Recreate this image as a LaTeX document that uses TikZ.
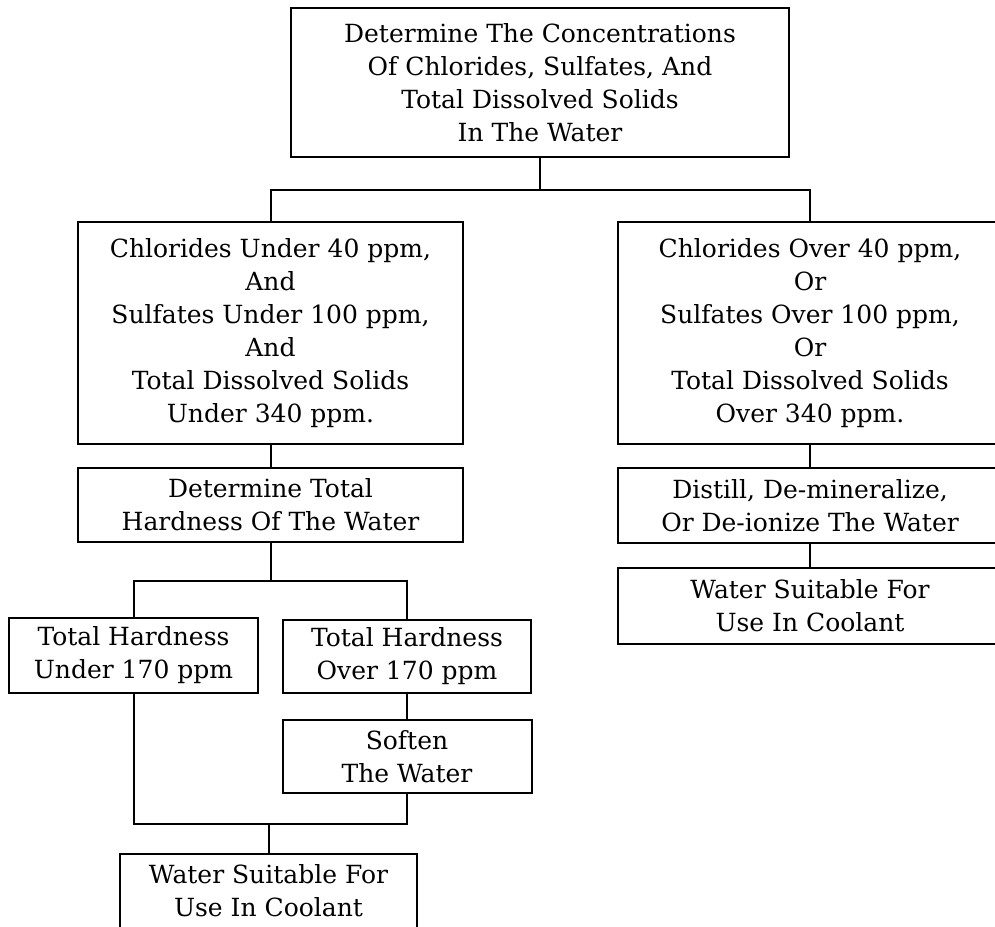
\documentclass[tikz,border=0pt]{standalone}
\usepackage{fontspec}
\setmainfont{DejaVu Serif}

\tikzset{
  caja/.style={draw, line width=2pt, align=center, inner sep=2pt,
    font=\fontsize{25}{33}\selectfont},
}

\begin{document}
\begin{tikzpicture}[x=1pt, y=-1pt, line width=2pt]

    % Marco
    \useasboundingbox (0,0) rectangle (995,926);
    \clip (0,0) rectangle (995,926);

    % Caja superior
    \node[caja, minimum width=498pt, minimum height=149pt] (analisis) at (540,82.5)
      {Determine The Concentrations\\ Of Chlorides, Sulfates, And\\ Total Dissolved Solids\\ In The Water};

    % Rama izquierda
    \node[caja, minimum width=385pt, minimum height=222pt] (bajo) at (270.5,333)
      {Chlorides Under 40 ppm,\\ And\\ Sulfates Under 100 ppm,\\ And\\ Total Dissolved Solids\\ Under 340 ppm.};
    \node[caja, minimum width=385pt, minimum height=74pt] (dureza) at (270.5,505)
      {Determine Total\\ Hardness Of The Water};
    \node[caja, minimum width=249pt, minimum height=75pt] (dmenor) at (133.5,655.5)
      {Total Hardness\\ Under 170 ppm};
    \node[caja, minimum width=248pt, minimum height=73pt] (dmayor) at (407,656.5)
      {Total Hardness\\ Over 170 ppm};
    \node[caja, minimum width=249pt, minimum height=73pt] (ablandar) at (407,756.5)
      {Soften\\ The Water};
    \node[caja, minimum width=297pt, minimum height=74pt] (apta1) at (268.5,891)
      {Water Suitable For\\ Use In Coolant};

    % Rama derecha
    \node[caja, minimum width=384pt, minimum height=222pt] (alto) at (810,333)
      {Chlorides Over 40 ppm,\\ Or\\ Sulfates Over 100 ppm,\\ Or\\ Total Dissolved Solids\\ Over 340 ppm.};
    \node[caja, minimum width=384pt, minimum height=75pt] (destilar) at (810,505.5)
      {Distill, De-mineralize,\\ Or De-ionize The Water};
    \node[caja, minimum width=384pt, minimum height=76pt] (apta2) at (810,606)
      {Water Suitable For\\ Use In Coolant};

    % Puntos de union
    \coordinate (b1) at (540,190);
    \coordinate (b2) at (270.5,581);
    \coordinate (b3) at (268.5,824);

    % Conexiones
    \draw (analisis.south) -- (b1);
    \draw (bajo.north) |- (b1) -| (alto.north);
    \draw (bajo.south) -- (dureza.north);
    \draw (dureza.south) -- (b2);
    \draw (dmenor.north) |- (b2) -| (dmayor.north);
    \draw (dmayor.south) -- (ablandar.north);
    \draw (dmenor.south) |- (b3) -| (ablandar.south);
    \draw (b3) -- (apta1.north);
    \draw (alto.south) -- (destilar.north);
    \draw (destilar.south) -- (apta2.north);

\end{tikzpicture}
\end{document}
